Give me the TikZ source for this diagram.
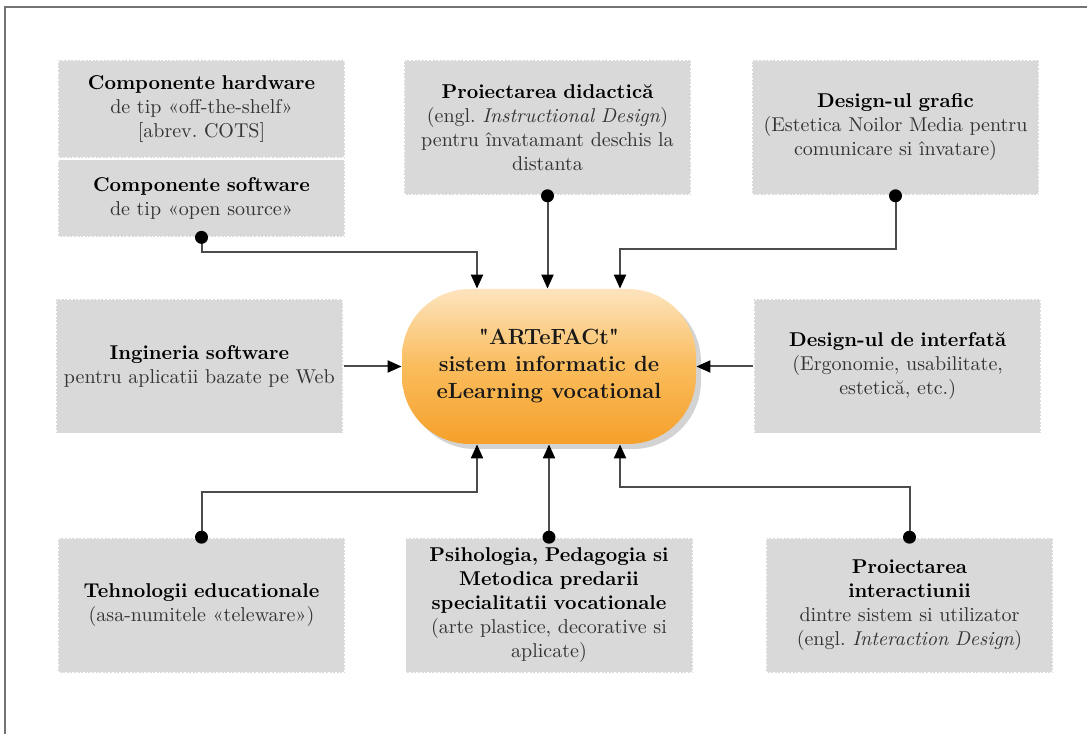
\documentclass[tikz,border=0pt]{standalone}
\usepackage{xcolor}
\usepackage{tikz}
\usetikzlibrary{arrows.meta, positioning, shadows}

\definecolor{hubtop}{RGB}{253,228,190}
\definecolor{hubmid}{RGB}{250,188,92}
\definecolor{hubbot}{RGB}{245,160,42}
\newcommand{\boxtitle}[1]{\textcolor{black}{\textbf{#1}}}

\begin{document}
\begin{tikzpicture}[
    x=0.5pt, y=0.5pt,
    topic/.style={rectangle, draw=white, densely dotted, line width=0.8pt, fill=gray!30, text width=139.5pt, inner xsep=2pt, align=center, font=\normalsize, text=black!80},
    hub/.style={rectangle, rounded corners=34pt, minimum width=147pt, minimum height=77.5pt, top color=hubtop, bottom color=hubbot, middle color=hubmid, drop shadow={opacity=0.35, shadow xshift=2.5pt, shadow yshift=-2.5pt}, align=center, text=black!90, font=\bfseries\fontsize{11}{13.5}\selectfont},
    dot/.style={circle, fill=black, inner sep=0pt, minimum size=6.5pt},
    link/.style={-{Triangle[length=7pt, width=6pt, color=black]}, line width=1pt, draw=black!70},
    frame/.style={draw=black!55, line width=1pt}
]
    \useasboundingbox (0,0) rectangle (1087,734);
    \draw [frame] (5,0) -- (5,727) -- (1087,727);

    % centre
    \node (art) [hub] at (549,367.5) {\textquotedbl ARTeFACt\textquotedbl\\ sistem informatic de\\ eLearning vocational};

    % top row
    \node (hw) [topic, minimum height=49pt] at (201.5,625) {\boxtitle{Componente hardware}\\ de tip «off-the-shelf»\\ {[abrev.\ COTS]}};
    \node (sw) [topic, minimum height=38.5pt, below=0pt of hw] {\boxtitle{Componente software}\\ de tip «open source»};
    \node (did) [topic, minimum height=67.5pt] at (547.5,606.5) {\boxtitle{Proiectarea didactică}\\ (engl.\ \textit{Instructional Design})\\ pentru învatamant deschis la\\ distanta};
    \node (gra) [topic, minimum height=67.5pt] at (895.5,606.5) {\boxtitle{Design-ul grafic}\\ (Estetica Noilor Media pentru\\ comunicare si învatare)};

    % middle row
    \node (ing) [topic, minimum height=67pt, text depth=14pt, left=29pt of art] {\boxtitle{Ingineria software}\\ pentru aplicatii bazate pe Web};
    \node (int) [topic, minimum height=67pt, right=28.5pt of art] {\boxtitle{Design-ul de interfată}\\ (Ergonomie, usabilitate,\\ estetică, etc.)};

    % bottom row
    \node (teh) [topic, minimum height=67.5pt] at (201.5,128.5) {\boxtitle{Tehnologii educationale}\\ (asa-numitele «teleware»)};
    \node (psi) [topic, minimum height=67.5pt] at (549,128.5) {\boxtitle{Psihologia, Pedagogia si}\\ \boxtitle{Metodica predarii}\\ \boxtitle{specialitatii vocationale}\\ (arte plastice, decorative si\\ aplicate)};
    \node (pro) [topic, minimum height=67.5pt] at (909.5,128.5) {\boxtitle{Proiectarea}\\ \boxtitle{interactiunii}\\ dintre sistem si utilizator\\ (engl.\ \textit{Interaction Design})};

    % connectors
    \draw [link] (sw.south) -- ++(0,-15) -| ([xshift=-36pt]art.north);
    \draw [link] (did.south) -- (did.south |- art.north);
    \draw [link] (gra.south) -- ++(0,-53) -| ([xshift=35.5pt]art.north);
    \draw [link] (ing) -- (art);
    \draw [link] (int) -- (art);
    \draw [link] (teh.north) -- ++(0,45) -| ([xshift=-36pt]art.south);
    \draw [link] (psi.north) -- (psi.north |- art.south);
    \draw [link] (pro.north) -- ++(0,50) -| ([xshift=35.5pt]art.south);

    \node (swdot) [dot] at (sw.south) {};
    \node (diddot) [dot] at (did.south) {};
    \node (gradot) [dot] at (gra.south) {};
    \node (tehdot) [dot] at (teh.north) {};
    \node (psidot) [dot] at (psi.north) {};
    \node (prodot) [dot] at (pro.north) {};
\end{tikzpicture}
\end{document}
